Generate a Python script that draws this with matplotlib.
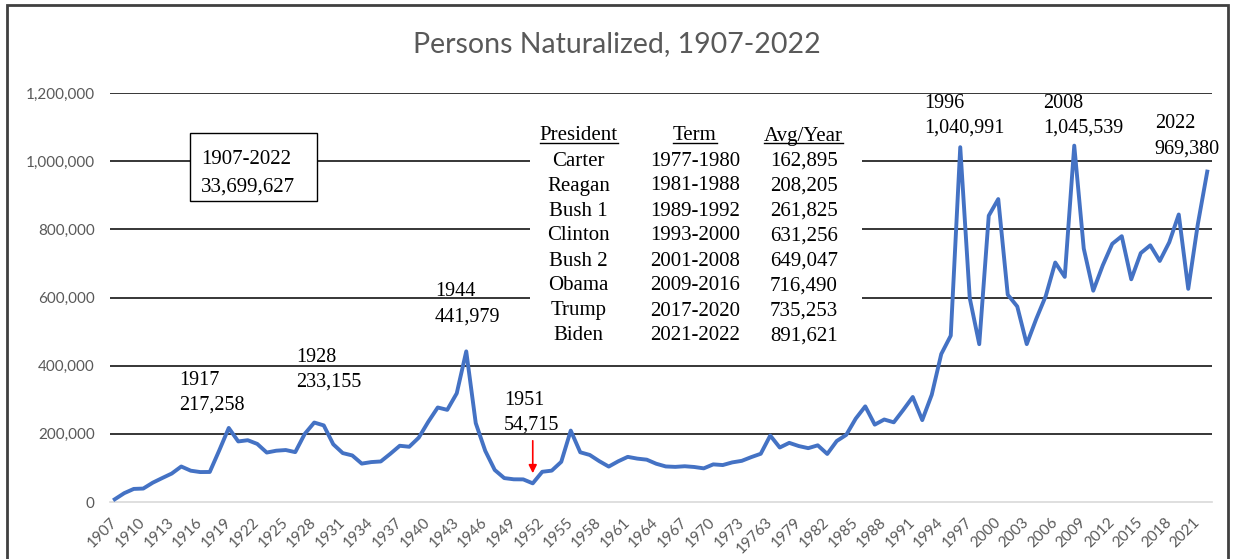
import matplotlib
matplotlib.use("Agg")
import matplotlib.pyplot as plt
from matplotlib.patches import Rectangle
from matplotlib.lines import Line2D

# ---------------- data ----------------
years = list(range(1907, 2023))
naturalized = [
    7941, 25975, 38374, 39448, 56683, 70310, 83561, 104145, 91848, 87831,      # 1907-1916
    88104, 151449, 217258, 177683, 181292, 170447, 145084, 150510, 152457, 146331,  # 1917-1926
    199804, 233155, 224728, 169377, 143495, 136598, 112629, 117125, 118945, 141265,  # 1927-1936
    164976, 162078, 188813, 235260, 277294, 270364, 318933, 441979, 231402, 150062,  # 1937-1946
    93904, 70150, 66594, 66346, 54715, 88655, 92051, 117831, 209526, 145885,         # 1947-1956
    138043, 119866, 103931, 119442, 132450, 127307, 124178, 112234, 104299, 103059,  # 1957-1966
    104902, 102726, 98709, 110399, 108407, 116215, 120740, 131655, 141537, 195000,   # 1967-1976
    159873, 173535, 164150, 157938, 166317, 141000, 178948, 197023, 244717, 280623,  # 1977-1986
    227008, 242063, 233777, 270101, 308058, 240252, 314681, 434107, 488088, 1040991, # 1987-1996
    598225, 463060, 839944, 888788, 608205, 573708, 463204, 537151, 604280, 702589,  # 1997-2006
    660477, 1045539, 743715, 619913, 694193, 757434, 779929, 653416, 730259, 753060, # 2007-2016
    707265, 761901, 843593, 625400, 813861, 969380,                                  # 2017-2022
]
assert len(years) == len(naturalized)

tick_labels = ["1907", "1910", "1913", "1916", "1919", "1922", "1925", "1928", "1931",
               "1934", "1937", "1940", "1943", "1946", "1949", "1952", "1955", "1958",
               "1961", "1964", "1967", "1970", "1973", "19763", "1979", "1982", "1985",
               "1988", "1991", "1994", "1997", "2000", "2003", "2006", "2009", "2012",
               "2015", "2018", "2021"]
y_ticks = [0, 200000, 400000, 600000, 800000, 1000000, 1200000]

peak_labels = [("1917", "217,258"), ("1928", "233,155"), ("1944", "441,979"),
               ("1951", "54,715"), ("1996", "1,040,991"), ("2008", "1,045,539"),
               ("2022", "969,380")]
total_label = ("1907-2022", "33,699,627")

presidents = ["Carter", "Reagan", "Bush 1", "Clinton", "Bush 2", "Obama", "Trump", "Biden"]
terms = ["1977-1980", "1981-1988", "1989-1992", "1993-2000", "2001-2008", "2009-2016",
         "2017-2020", "2021-2022"]
avg_per_year = ["162,895", "208,205", "261,825", "631,256", "649,047", "716,490",
                "735,253", "891,621"]
table_headers = ["President", "Term", "Avg/Year"]

# ---------------- style ----------------
W, H = 1233, 559
DPI = 100
SANS = ["Lato", "DejaVu Sans"]
SERIF = ["Liberation Serif", "DejaVu Serif"]
GRAY = "#595959"
BLUE = "#4472C4"

fig = plt.figure(figsize=(W / DPI, H / DPI), dpi=DPI)
fig.patch.set_facecolor("white")

L, R, B, T = 110, 1212, 502, 93
ax = fig.add_axes([L / W, 1 - B / H, (R - L) / W, (B - T) / H])

ax.plot(years, naturalized, color=BLUE, lw=2.8, zorder=4, solid_joinstyle="round")

ax.set_xlim(years[0] - 0.5, years[-1] + 0.5)
ax.set_ylim(0, 1200000)

for s in ["top", "right", "left"]:
    ax.spines[s].set_visible(False)
ax.spines["bottom"].set_color("#D9D9D9")
ax.spines["bottom"].set_linewidth(1.2)

for v in y_ticks[1:]:
    ax.axhline(v, color="black", lw=1.1, zorder=1)

ax.set_yticks(y_ticks)
ax.set_yticklabels([f"{v:,}" for v in y_ticks], fontfamily=SANS, fontsize=11, color=GRAY)
ax.set_xticks(years[::3])
ax.set_xticklabels(tick_labels, rotation=45, ha="right", va="center",
                   rotation_mode="anchor", fontfamily=SANS, fontsize=11, color=GRAY)
ax.tick_params(axis="both", length=0)
ax.tick_params(axis="y", pad=11)
ax.tick_params(axis="x", pad=13)


def px2x(px):
    return years[0] + (px - 115) / 9.5


def py2y(py):
    return (B - py) * 1200000 / (B - T)


# title
fig.text(0.5, 1 - 52 / H, "Persons Naturalized, 1907-2022", ha="center", va="baseline",
         fontfamily=SANS, fontsize=20.5, color=GRAY)

# peak annotations (left px, first baseline px)
peak_pos = [(179, 385), (296, 361.5), (435, 296.5), (504, 405),
            (924, 108), (1043, 108), (1155, 128.5)]
for (l1, l2), (px, py) in zip(peak_labels, peak_pos):
    ax.text(px2x(px), py2y(py), l1, ha="left", va="baseline", fontfamily=SERIF,
            fontsize=14.5, color="black", clip_on=False, zorder=6)
    ax.text(px2x(px), py2y(py + 25), l2, ha="left", va="baseline", fontfamily=SERIF,
            fontsize=14.5, color="black", clip_on=False, zorder=6)

# red arrow at 1951
ax.annotate("", xy=(1951, py2y(476)), xytext=(1951, py2y(438)),
            arrowprops=dict(arrowstyle="-|>", color="red", lw=1.2, mutation_scale=12),
            zorder=6)

# total box
ax.add_patch(Rectangle((px2x(190), py2y(201)), px2x(317) - px2x(190), py2y(133) - py2y(201),
                       facecolor="white", edgecolor="black", lw=1.0, zorder=5))
ax.text(px2x(201), py2y(164), total_label[0], ha="left", va="baseline", fontfamily=SERIF,
        fontsize=15, color="black", zorder=6)
ax.text(px2x(201), py2y(192), total_label[1], ha="left", va="baseline", fontfamily=SERIF,
        fontsize=15, color="black", zorder=6)

# table
ax.add_patch(Rectangle((px2x(530), py2y(348)), px2x(862) - px2x(530), py2y(118) - py2y(348),
                       facecolor="white", edgecolor="none", zorder=5))
col_px = [579, 695, 804]
header_base = 140.5
header_texts = []
for h, cx in zip(table_headers, col_px):
    t = ax.text(px2x(cx), py2y(header_base), h, ha="center", va="baseline",
                fontfamily=SERIF, fontsize=15, color="black", zorder=6)
    header_texts.append(t)
for i, row in enumerate(zip(presidents, terms, avg_per_year)):
    yb = py2y(header_base + 25 * (i + 1))
    for val, cx in zip(row, col_px):
        ax.text(px2x(cx), yb, val, ha="center", va="baseline", fontfamily=SERIF,
                fontsize=15, color="black", zorder=6)

fig.canvas.draw()
for t in header_texts:
    bb = t.get_window_extent()
    yb = ax.transData.transform((0, py2y(header_base)))[1] - 2.5
    fig.add_artist(Line2D([bb.x0, bb.x1], [yb, yb], transform=None, color="black", lw=1.0))

# outer chart border
fig.add_artist(Rectangle((7 / W, -0.05), (1228 - 7) / W, 1.05 - 5 / H, transform=fig.transFigure,
                         facecolor="none", edgecolor="#404040", lw=2.0))

fig.savefig("out.png", dpi=DPI, facecolor="white")
